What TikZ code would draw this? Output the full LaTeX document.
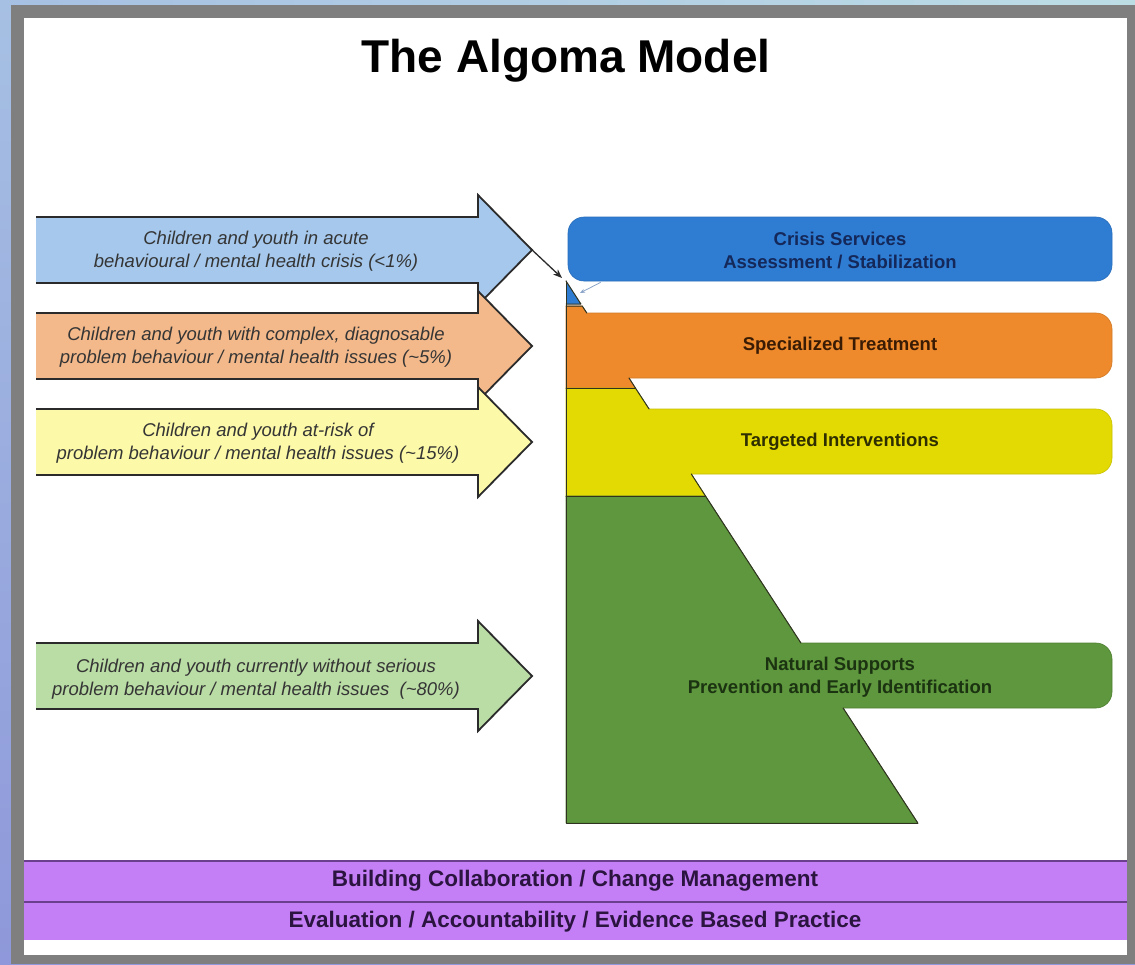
\documentclass[tikz,border=0pt]{standalone}
\usepackage{fontspec}
\setmainfont{Liberation Sans}
\usetikzlibrary{arrows.meta,calc}
\definecolor{bgA}{HTML}{A6C0E3}
\definecolor{bgB}{HTML}{BDDDE5}
\definecolor{bgC}{HTML}{8E98DA}
\definecolor{framec}{HTML}{7F7F7F}
\definecolor{arrblue}{HTML}{A5C8EC}
\definecolor{arrorange}{HTML}{F4B98A}
\definecolor{arryellow}{HTML}{FCF9A8}
\definecolor{arrgreen}{HTML}{BADCA5}
\definecolor{arrlinec}{HTML}{2B2B2B}
\definecolor{arrtextc}{HTML}{353535}
\definecolor{crisisc}{HTML}{2F7DD3}
\definecolor{orangec}{HTML}{EE8A2C}
\definecolor{yellowc}{HTML}{E2DA02}
\definecolor{greenc}{HTML}{5E973D}
\definecolor{barc}{HTML}{C47EF6}
\definecolor{barlinec}{HTML}{6B3E8E}
\definecolor{crisistext}{HTML}{14285A}
\definecolor{orangetext}{HTML}{3A1C05}
\definecolor{yellowtext}{HTML}{2E2E00}
\definecolor{greentext}{HTML}{1B3311}
\definecolor{bartext}{HTML}{2B1540}
\definecolor{smallarr}{HTML}{8AA4C8}
\definecolor{pyrlinec}{HTML}{2F3320}
\newcommand\sidearrow[2]{%
  \fill[#2] (36,#1-33) -- (478,#1-33) -- (478,#1-55) -- (532,#1) -- (478,#1+55) -- (478,#1+33) -- (36,#1+33) -- cycle;
  \draw[arrline] (36,#1-33) -- (478,#1-33) -- (478,#1-55) -- (532,#1) -- (478,#1+55) -- (478,#1+33) -- (36,#1+33);
}
\begin{document}
\begin{tikzpicture}[x=1pt,y=-1pt,
  arrline/.style={draw=arrlinec, line width=1.8pt, line join=miter},
  arrtext/.style={font=\fontsize{18.5}{23}\selectfont\itshape, text=arrtextc, align=center, inner sep=0pt},
  boxtext/.style={font=\fontsize{18.5}{23}\selectfont\bfseries, align=center, inner sep=0pt},
  bartxt/.style={font=\fontsize{22.5}{26}\selectfont\bfseries, text=bartext, inner sep=0pt},
  layer/.style={line width=0.6pt, line join=round},
  pyrline/.style={draw=pyrlinec, line width=1pt, line join=round, line cap=round},
  crisisbox/.style={fill=crisisc, draw=crisisc!88!black, line width=0.6pt, rounded corners=16pt,
    minimum width=544pt, minimum height=64pt, inner sep=0pt}]
\useasboundingbox (0,0) rectangle (1135,964);
% background and frame
\shade[top color=bgA, bottom color=bgC] (0,0) rectangle (1135,964);
\shade[left color=bgA, right color=bgB] (0,0) rectangle (1135,6);
\fill[framec] (11,5) rectangle (1135,964);
\fill[white] (24,18) rectangle (1127,955);
% title
\node[font=\fontsize{46}{52}\selectfont\bfseries, inner sep=0pt] (title) at (566,61) {The Algoma Model};
% left arrows
\sidearrow{250}{arrblue}
\sidearrow{346}{arrorange}
\sidearrow{442}{arryellow}
\sidearrow{676}{arrgreen}
\coordinate (tip1) at (530,248);
\node[arrtext] (a1) at (256,251) {Children and youth in acute\\behavioural / mental health crisis (<1\%)};
\node[arrtext] (a2) at (256,347) {Children and youth with complex, diagnosable\\problem behaviour / mental health issues (\textasciitilde5\%)};
\node[arrtext] (a3) at (258,443) {Children and youth at-risk of\\problem behaviour / mental health issues (\textasciitilde15\%)};
\node[arrtext] (a4) at (256,679) {Children and youth currently without serious\\problem behaviour / mental health issues\ \ (\textasciitilde80\%)};
% pyramid layers with their boxes
\fill[crisisc] (566,281) -- (580.9,304) -- (566,304) -- cycle;
\filldraw[layer, fill=orangec, draw=orangec!88!black] (566,306) -- (582.2,306) -- (586.8,313) -- (1096,313)
  .. controls (1104.8,313) and (1112,320.2) .. (1112,329) -- (1112,362)
  .. controls (1112,370.8) and (1104.8,378) .. (1096,378)
  -- (629,378) -- (635.4,388) -- (566,388) -- cycle;
\filldraw[layer, fill=yellowc, draw=yellowc!88!black] (566,388) -- (635.4,388) -- (649.1,409) -- (1096,409)
  .. controls (1104.8,409) and (1112,416.2) .. (1112,425) -- (1112,458)
  .. controls (1112,466.8) and (1104.8,474) .. (1096,474)
  -- (691.3,474) -- (705.5,496) -- (566,496) -- cycle;
\filldraw[layer, fill=greenc, draw=greenc!85!black] (566,496) -- (705.5,496) -- (800.9,643) -- (1096,643)
  .. controls (1104.8,643) and (1112,650.2) .. (1112,659) -- (1112,692)
  .. controls (1112,700.8) and (1104.8,708) .. (1096,708)
  -- (843.1,708) -- (917.8,823) -- (566,823) -- cycle;
% pyramid edges
\draw[pyrline] (566,281) -- (566,823) -- (917.8,823);
\draw[pyrline] (566,281) -- (580.9,304) -- (566,304);
\draw[pyrline] (566,306) -- (582.2,306) -- (586.8,313);
\draw[pyrline] (566,388) -- (635.4,388);
\draw[pyrline] (629,378) -- (635.4,388) -- (649.1,409);
\draw[pyrline] (566,496) -- (705.5,496);
\draw[pyrline] (691.3,474) -- (705.5,496) -- (800.9,643);
\draw[pyrline] (843.1,708) -- (917.8,823);
% boxes and texts
\node[crisisbox] (crisis) at (840,249) {};
\node[boxtext, text=crisistext] (crisistxt) at (840,250) {Crisis Services\\Assessment / Stabilization};
\node[boxtext, text=orangetext] (spec) at (840,346) {Specialized Treatment};
\node[boxtext, text=yellowtext] (targ) at (840,442) {Targeted Interventions};
\node[boxtext, text=greentext] (nat) at (840,677) {Natural Supports\\Prevention and Early Identification};
% connectors to the apex
\coordinate (apex) at (562,278);
\coordinate (apexr) at (580,293);
\coordinate (cfrom) at ($(crisis.south west)+(33,1)$);
\draw[line width=1.3pt, arrlinec, -{Stealth[length=9pt,width=7pt]}] (tip1) -- (apex);
\draw[line width=0.8pt, smallarr, -{Stealth[length=5pt,width=4pt]}] (cfrom) -- (apexr);
% bottom bars
\fill[barc] (24,860) rectangle (1127,940);
\draw[barlinec, line width=2pt] (24,861) -- (1127,861);
\draw[barlinec, line width=2.5pt] (24,902) -- (1127,902);
\node[bartxt] (collab) at (575,881) {Building Collaboration / Change Management};
\node[bartxt] (eval) at (575,922) {Evaluation / Accountability / Evidence Based Practice};
\end{tikzpicture}
\end{document}
